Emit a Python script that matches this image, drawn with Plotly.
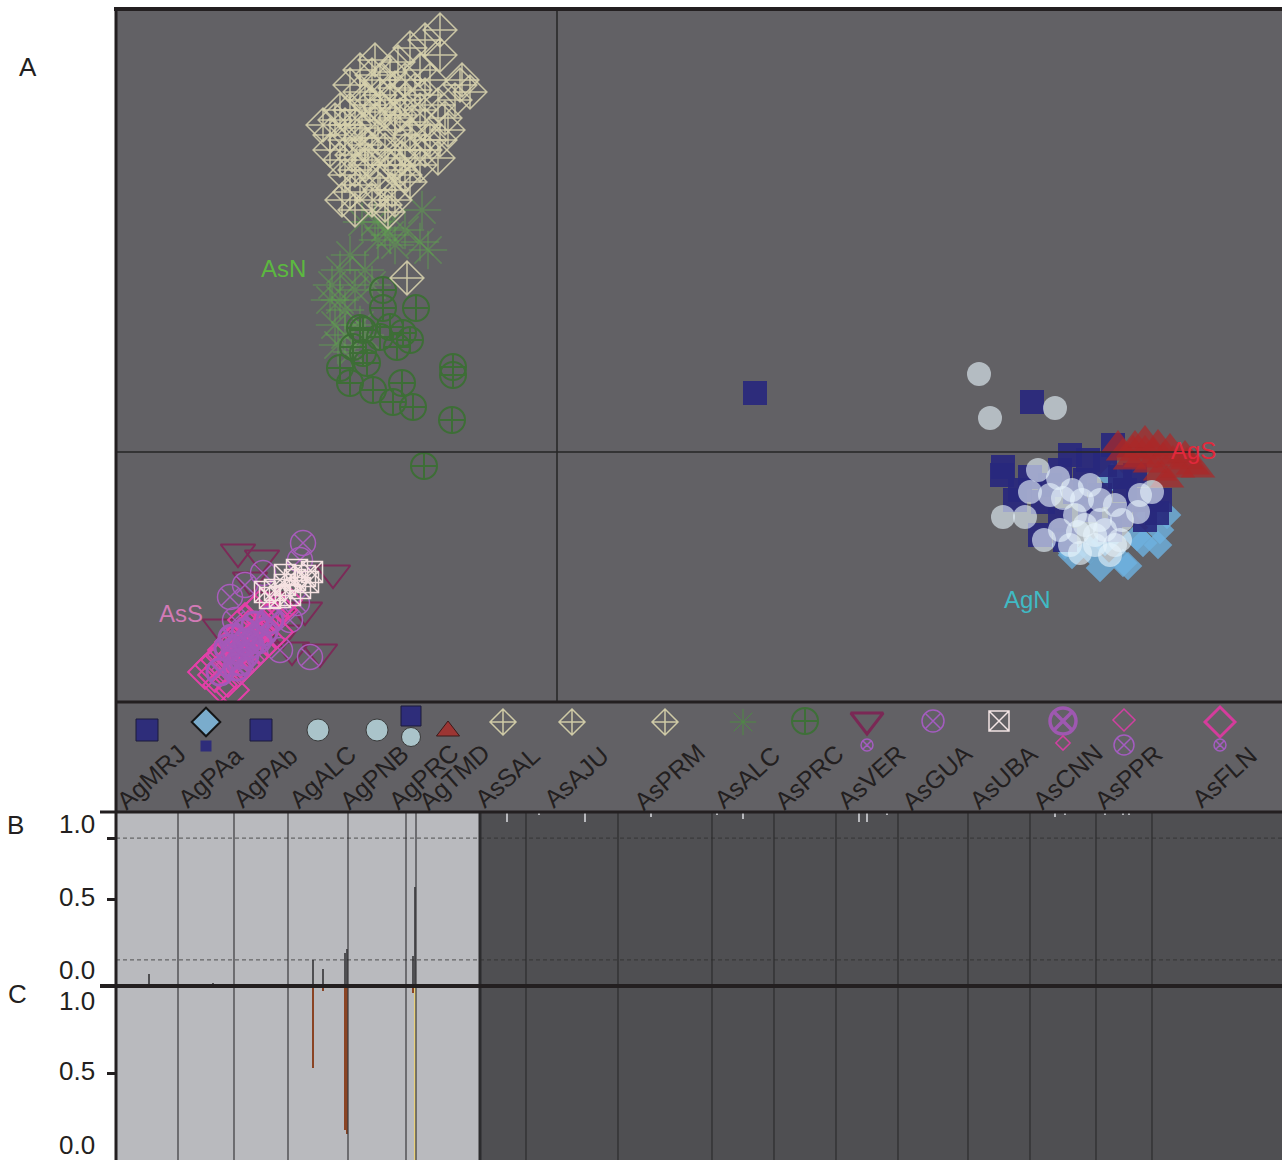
import plotly.graph_objects as go

W, H = 1282, 1160
FONT = "Liberation Sans, Arial, Helvetica, sans-serif"
INK = "#231f20"
PANEL_BG = "#626165"

# ---------------- populations, in bar-plot order ----------------
ag_pops = ["AgMRJ", "AgPAa", "AgPAb", "AgALC", "AgPNB", "AgPRC", "AgTMD"]
ag_sizes = [31, 28, 27, 30, 29, 5, 32]
as_pops = ["AsSAL", "AsAJU", "AsPRM", "AsALC", "AsPRC", "AsVER", "AsGUA",
           "AsUBA", "AsCNN", "AsPPR", "AsFLN"]
as_sizes = [23, 46, 47, 31, 31, 31, 35, 31, 33, 28, 68]

# ---------------- panel A: PCoA scores (PC1, PC2) ----------------
agmrj_pc1 = [1.98, 4.75, 4.46, 4.45, 4.63, 4.58, 4.83, 4.93, 5.03, 5.13, 5.28]
agmrj_pc2 = [0.59, 0.50, -0.15, -0.23, -0.38, -0.48, -0.83, -0.33, -0.68, -0.03, -0.28]
agpab_pc1 = [5.56, 5.31, 4.73, 5.63, 6.03, 6.00, 4.86, 5.03, 5.43, 5.68, 5.81, 5.18]
agpab_pc2 = [0.07, -0.08, -0.25, -0.25, -0.48, -0.61, -0.50, -0.18, -0.43, -0.38, -0.48, -0.40]
agprc_pc1 = [5.33, 5.63, 5.88, 5.48, 5.78, 5.08, 5.53]
agprc_pc2 = [-0.58, -0.63, -0.68, -0.13, -0.23, -0.88, -0.78]
agpaa_pc1 = [5.15, 5.43, 5.66, 6.03, 6.10, 5.86, 5.80, 5.55, 5.33, 5.71, 5.93, 5.08, 5.48, 6.01]
agpaa_pc2 = [-1.03, -1.16, -1.11, -0.78, -0.63, -0.91, -0.85, -0.25, -0.98, -1.14, -0.63, -0.93, -0.90, -0.93]
agtmd_pc1 = [5.66, 5.76, 5.88, 5.96, 6.06, 6.16, 6.30, 6.36, 6.03, 6.10, 5.83, 5.73, 5.93, 6.21, 5.78,
             5.61, 6.28, 6.41, 5.88, 6.01, 6.13]
agtmd_pc2 = [-0.01, 0.02, 0.02, 0.00, -0.05, -0.08, -0.10, -0.15, -0.21, -0.28, -0.08, -0.10, -0.13, -0.18, 0.07,
             0.07, -0.03, -0.18, 0.12, 0.08, 0.04]
agalc_pc1 = [4.22, 4.33, 4.46, 4.68, 4.87, 5.23, 4.81, 5.01, 5.15, 5.43, 5.58, 5.83, 5.95, 4.73, 5.28, 5.48]
agalc_pc2 = [0.78, 0.34, -0.65, -0.65, -0.88, -1.01, -0.18, -0.26, -0.38, -0.48, -0.53, -0.43, -0.40, -0.40, -0.73, -0.78]
agpnb_pc1 = [4.98, 5.63, 5.38, 5.13, 5.03, 5.53, 4.93, 5.33, 5.18, 5.43, 5.65, 5.81, 5.25, 5.06, 5.38, 5.21, 5.58]
agpnb_pc2 = [0.44, -0.88, -0.93, -0.93, -0.78, -1.03, -0.43, -0.33, -0.63, -0.68, -0.68, -0.60, -0.48, -0.46, -0.83, -0.80, -0.93]

assal_pc1 = [-1.32, -1.47, -1.17, -1.59, -1.37, -1.77, -1.62, -1.97, -0.95, -0.87, -1.02, -2.22, -2.07, -1.87, -1.72, -1.52, -1.17,
             -1.97, -1.82, -1.67, -1.52, -1.42, -2.07, -1.92, -1.77]
assal_pc2 = [4.12, 4.04, 3.97, 3.90, 3.82, 3.72, 3.64, 3.60, 3.72, 3.60, 3.52, 3.32, 3.42, 3.47, 3.40, 3.52, 4.22,
             3.82, 3.92, 3.80, 3.72, 3.62, 3.67, 3.52, 3.44]
asaju_pc1 = [-1.32, -1.12, -2.27, -2.12, -1.95, -1.79, -1.62, -1.45, -1.27, -1.09, -2.05, -1.89, -1.72, -1.55, -1.37, -1.19, -1.77, -1.57, -1.85,
             -1.62, -1.47, -1.32, -1.19, -2.17, -2.12, -1.97, -1.85]
asaju_pc2 = [3.57, 3.34, 3.17, 3.12, 3.24, 3.14, 3.22, 3.30, 3.12, 3.22, 2.97, 2.92, 3.02, 2.94, 2.87, 2.94, 3.57, 3.37, 3.77,
             3.34, 3.17, 3.27, 3.47, 3.42, 3.27, 3.14, 3.02]
asprm_pc1 = [-2.12, -1.97, -1.79, -1.65, -1.47, -2.15, -2.02, -1.85, -1.69, -2.07, -1.52, -1.82, -1.67, -1.92, -1.57, -1.37, -2.02, -2.17, -0.97, -1.42, -1.72, -1.50, -1.92, -1.62, -1.27,
             -1.69, -1.52, -1.32, -1.17, -2.02, -1.77, -1.62, -2.27, -2.34]
asprm_pc2 = [2.77, 2.67, 2.74, 2.62, 2.70, 2.52, 2.42, 2.52, 2.40, 2.60, 3.02, 3.32, 3.52, 3.07, 2.82, 3.42, 3.27, 2.92, 3.67, 3.02, 2.47, 1.74, 2.87, 2.87, 3.72,
             2.87, 2.77, 3.02, 3.12, 2.82, 2.62, 2.52, 3.02, 3.27]
asalc_pc1 = [-1.35, -1.29, -1.67, -1.79, -1.95, -2.07, -2.17, -2.25, -2.27, -2.12, -2.22, -2.17, -2.02, -1.92, -1.85, -1.62, -1.52, -1.37, -2.12, -1.97, -2.19, -2.05, -1.92, -1.82, -1.72]
asalc_pc2 = [2.42, 2.02, 2.17, 2.12, 2.30, 1.97, 1.82, 1.67, 1.52, 1.42, 1.27, 1.52, 1.62, 1.82, 1.67, 2.07, 2.22, 2.10, 1.17, 1.27, 1.07, 1.00, 1.17, 2.30, 2.24]
asprc_pc1 = [-1.74, -1.41, -1.74, -1.94, -1.67, -1.54, -1.47, -1.60, -1.90, -2.17, -2.07, -1.84, -1.55, -1.64, -1.44, -1.04, -1.04, -1.05, -1.33, -1.94, -2.04, -1.77, -1.97]
asprc_pc2 = [1.62, 1.44, 1.44, 1.22, 1.25, 1.19, 1.12, 1.05, 0.89, 0.84, 0.69, 0.62, 0.69, 0.50, 0.45, 0.85, 0.77, 0.32, -0.14, 0.99, 1.05, 1.15, 1.24]

asver_pc1 = [-3.19, -2.95, -2.24, -2.37, -2.65, -3.37, -2.74, -3.07, -2.52, -2.89]
asver_pc2 = [-1.00, -1.06, -1.21, -2.00, -1.98, -1.75, -1.81, -1.28, -1.58, -1.48]
asgua_pc1 = [-2.54, -2.47, -3.27, -2.94, -2.77, -2.60, -3.12, -2.67, -3.02, -3.22, -2.57]
asgua_pc2 = [-0.91, -2.05, -1.45, -1.21, -1.98, -1.51, -1.33, -1.68, -1.88, -1.68, -1.08]
asuba_pc1 = [-2.92, -2.82, -2.72, -2.62, -2.52, -2.45, -2.57, -2.67, -2.77, -2.87, -2.49, -2.60, -2.72]
asuba_pc2 = [-1.40, -1.38, -1.33, -1.28, -1.24, -1.20, -1.36, -1.43, -1.45, -1.46, -1.30, -1.18, -1.23]
asfln_pc1 = [-3.42, -3.35, -3.29, -3.22, -3.15, -3.07, -2.99, -2.91, -2.85, -2.77, -3.39, -3.32, -3.25, -3.17, -3.09,
             -3.29, -3.21, -3.13, -3.05, -2.97, -2.89, -2.81, -3.45, -3.37, -3.25, -3.52, -3.12, -3.02, -2.95, -2.72]
asfln_pc2 = [-2.23, -2.16, -2.10, -2.03, -1.96, -1.88, -1.80, -1.72, -1.64, -1.58, -2.08, -1.98, -1.90, -1.83, -1.76,
             -2.28, -2.20, -2.12, -2.04, -1.96, -1.88, -1.80, -2.13, -2.33, -2.38, -2.20, -1.68, -1.60, -1.53, -1.48]
asppr_pc1 = [-3.27, -3.19, -3.11, -3.03, -2.95, -3.31, -3.17, -3.07, -3.35, -3.21]
asppr_pc2 = [-2.08, -2.00, -1.93, -1.85, -1.76, -2.18, -2.18, -2.08, -2.03, -1.88]
ascnn_pc1 = [-3.22, -3.12, -3.07, -3.17, -3.29, -2.99, -2.93, -3.25, -3.02, -2.87, -3.12, -3.37, -3.20, -3.10]
ascnn_pc2 = [-1.98, -2.03, -1.93, -2.10, -1.96, -1.88, -1.80, -1.86, -1.73, -1.68, -1.80, -2.20, -2.15, -1.90]

# ---------------- panels B and C: ancestry proportions ----------------
# B (K=2): share of the other cluster carried by admixed individuals
b_ag_idx = [5, 16, 48, 98, 103, 114, 115, 148, 149]
b_ag_q = [0.01, 0.07, 0.02, 0.15, 0.10, 0.19, 0.21, 0.17, 0.57]
b_as_idx = [195, 211, 234, 267, 300, 313, 371, 375, 385, 469, 474, 494, 503, 506]
b_as_q = [0.06, 0.02, 0.055, 0.03, 0.02, 0.04, 0.055, 0.055, 0.02, 0.03, 0.02, 0.02, 0.015, 0.015]
# C: further clusters found within the Ag group
c_brown_idx = [16, 98, 103, 114, 115, 148]
c_brown_q = [0.01, 0.47, 0.03, 0.83, 0.85, 0.04]
c_yellow_idx = [149]
c_yellow_q = [1.0]

n_ag, n_as = sum(ag_sizes), sum(as_sizes)
n_ind = n_ag + n_as
ind_x = [i + 0.5 for i in range(n_ind)]

b_dark = [0.0] * n_ag + [1.0] * n_as
for i, q in zip(b_ag_idx, b_ag_q):
    b_dark[i] = q
for i, q in zip(b_as_idx, b_as_q):
    b_dark[i] = 1.0 - q
b_light = [1.0 - d for d in b_dark]

c_dark = [0.0] * n_ag + [1.0] * n_as
c_brown = [0.0] * n_ind
c_yellow = [0.0] * n_ind
for i, q in zip(c_brown_idx, c_brown_q):
    c_brown[i] = q
for i, q in zip(c_yellow_idx, c_yellow_q):
    c_yellow[i] = q
c_light = [(1.0 - c_brown[i] - c_yellow[i]) if i < n_ag else 0.0 for i in range(n_ind)]

pops = ag_pops + as_pops
sizes = ag_sizes + as_sizes
bounds = [0]
for s in sizes:
    bounds.append(bounds[-1] + s)
centers = [(bounds[k] + bounds[k + 1]) / 2 for k in range(len(sizes))]
X_VIS = 583  # individuals shown across the plotting width

# ---------------- figure ----------------
def py(p):
    return 1 - p / H

x_dom = [116 / W, 1.0]
fig = go.Figure()

LIGHT, DARK = "#b9babe", "#4f4f52"
BROWN, YELLOW = "#8a4424", "#e6d07c"

def sc(x, y, symbol, size, color, lw=0, lcolor=None, opacity=1.0, xa="x", ya="y"):
    marker = dict(symbol=symbol, size=size, opacity=opacity, color=color,
                  line=dict(width=lw, color=lcolor if lcolor else color))
    fig.add_trace(go.Scatter(x=x, y=y, mode="markers", marker=marker,
                             xaxis=xa, yaxis=ya, showlegend=False, hoverinfo="skip"))

# panel A -- northern As group
sc(asalc_pc1, asalc_pc2, "asterisk-open", 32, "rgba(95,160,80,0.55)", lw=1.5)
sc(asprc_pc1, asprc_pc2, "circle-cross-open", 26, "#3d6e36", lw=2)
for px_, py_ in [(assal_pc1, assal_pc2), (asaju_pc1, asaju_pc2), (asprm_pc1, asprm_pc2)]:
    sc(px_, py_, "diamond-cross-open", 26, "rgba(214,208,172,0.9)", lw=1.5)
# southern As group
sc(asver_pc1, asver_pc2, "triangle-down-open", 30, "#7c2a58", lw=2)
sc(asgua_pc1, asgua_pc2, "circle-x-open", 25, "#a85cbc", lw=1.5)
sc(asfln_pc1, asfln_pc2, "diamond-open", 26, "#e43fa8", lw=2)
sc(asppr_pc1, asppr_pc2, "diamond-open", 22, "#d24cae", lw=1.5)
sc(ascnn_pc1, ascnn_pc2, "circle-x-open", 26, "#a458b8", lw=3)
sc(asuba_pc1, asuba_pc2, "square-x-open", 21, "#f6e2e2", lw=1.5)
# Ag groups
sc(agpaa_pc1, agpaa_pc2, "diamond", 22, "rgba(110,178,224,0.8)")
sc(agmrj_pc1, agmrj_pc2, "square", 24, "rgba(40,40,125,0.92)")
sc(agpab_pc1, agpab_pc2, "square", 24, "rgba(40,40,125,0.92)")
sc(agprc_pc1, agprc_pc2, "square", 24, "rgba(40,40,125,0.92)")
sc(agtmd_pc1, agtmd_pc2, "triangle-up", 30, "rgba(170,40,40,0.72)")
sc(agalc_pc1, agalc_pc2, "circle", 24, "rgba(230,244,251,0.62)")
sc(agpnb_pc1, agpnb_pc2, "circle", 24, "rgba(230,244,251,0.62)")

# ---------------- symbol key above the bar plots ----------------
cmap = dict(zip(pops, centers))
sc([cmap["AgMRJ"], cmap["AgPAb"]], [82, 82], "square", 22, "#2e2d7a", lw=1, lcolor="#1b1b3a", xa="x2", ya="y2")
sc([cmap["AgPAa"]], [90], "diamond", 22, "#7aaccc", lw=2, lcolor="#151515", xa="x2", ya="y2")
sc([cmap["AgPAa"]], [66], "square", 11, "#2e2d7a", xa="x2", ya="y2")
sc([cmap["AgALC"], cmap["AgPNB"]], [82, 82], "circle", 22, "#aac4ca", lw=1, lcolor="#3a3a3a", xa="x2", ya="y2")
sc([cmap["AgPRC"]], [96], "square", 20, "#2e2d7a", lw=1, lcolor="#1b1b3a", xa="x2", ya="y2")
sc([cmap["AgPRC"]], [75], "circle", 19, "#aac4ca", lw=1, lcolor="#3a3a3a", xa="x2", ya="y2")
sc([cmap["AgTMD"]], [81], "triangle-up", 20, "#9c3533", lw=1, lcolor="#3a1a1a", xa="x2", ya="y2")
sc([cmap["AsSAL"], cmap["AsAJU"], cmap["AsPRM"]], [90, 90, 90], "diamond-cross-open", 20, "#cfcaa6", lw=1.5, xa="x2", ya="y2")
sc([cmap["AsALC"]], [90], "asterisk-open", 22, "#4e8a45", lw=1, xa="x2", ya="y2")
sc([cmap["AsPRC"]], [91], "circle-cross-open", 26, "#3e6f38", lw=2, xa="x2", ya="y2")
sc([cmap["AsVER"]], [92], "triangle-down-open", 28, "#7a2855", lw=3, xa="x2", ya="y2")
sc([cmap["AsVER"]], [67], "circle-x-open", 12, "#a45cc0", lw=1.5, xa="x2", ya="y2")
sc([cmap["AsGUA"]], [91], "circle-x-open", 22, "#a45cc0", lw=1.5, xa="x2", ya="y2")
sc([cmap["AsUBA"]], [91], "square-x-open", 20, "#f2e4e4", lw=1.5, xa="x2", ya="y2")
sc([cmap["AsCNN"]], [91], "circle-x-open", 26, "#9e58b0", lw=3.5, xa="x2", ya="y2")
sc([cmap["AsCNN"]], [69], "diamond-open", 11, "#d040a0", lw=1.5, xa="x2", ya="y2")
sc([cmap["AsPPR"]], [92], "diamond-open", 17, "#d040a0", lw=1.5, xa="x2", ya="y2")
sc([cmap["AsPPR"]], [67], "circle-x-open", 20, "#a45cc0", lw=1.5, xa="x2", ya="y2")
sc([cmap["AsFLN"]], [90], "diamond-open", 23, "#d43c9c", lw=3, xa="x2", ya="y2")
sc([cmap["AsFLN"]], [67], "circle-x-open", 12, "#a45cc0", lw=1.5, xa="x2", ya="y2")

# ---------------- bar plots ----------------
def bars(y, color, xa, ya):
    fig.add_trace(go.Bar(x=ind_x, y=y, width=1.0, marker=dict(color=color, line=dict(width=0)),
                         xaxis=xa, yaxis=ya, showlegend=False, hoverinfo="skip"))

bars(b_dark, DARK, "x3", "y3")
bars(b_light, LIGHT, "x3", "y3")
bars(c_dark, DARK, "x4", "y4")
bars(c_light, LIGHT, "x4", "y4")
bars(c_yellow, YELLOW, "x4", "y4")
bars(c_brown, BROWN, "x4", "y4")

shapes = []
# crosshair of panel A
shapes.append(dict(type="line", xref="x", yref="y domain", x0=0, x1=0, y0=0, y1=1,
                   line=dict(color="#262626", width=1.5)))
shapes.append(dict(type="line", xref="x domain", yref="y", x0=0, x1=1, y0=0, y1=0,
                   line=dict(color="#262626", width=1.5)))
# population separators in B and C
for ya, xa in [("y3", "x3"), ("y4", "x4")]:
    for b in bounds[1:-1]:
        thick = (b == n_ag)
        col = "#3a3a3c" if b < n_ag else "#2c2c2e"
        shapes.append(dict(type="line", xref=xa, yref=ya + " domain", x0=b, x1=b, y0=0, y1=1,
                           line=dict(color=col, width=3 if thick else 1.2), layer="above"))
# threshold lines in B
for t in (0.15, 0.85):
    shapes.append(dict(type="line", xref="x3 domain", yref="y3", x0=0, x1=1, y0=t, y1=t,
                       line=dict(color="rgba(45,45,45,0.75)", width=1, dash="4px,3px"), layer="above"))
# frame lines
def hline(y, x0, x1, w):
    shapes.append(dict(type="line", xref="paper", yref="paper", x0=x0 / W, x1=x1 / W,
                       y0=py(y), y1=py(y), line=dict(color=INK, width=w), layer="above"))
hline(9, 114, W, 4)
hline(702, 116, W, 3)
hline(812, 100, W, 3)
hline(986, 100, W, 4)
shapes.append(dict(type="line", xref="paper", yref="paper", x0=116 / W, x1=116 / W,
                   y0=0, y1=py(7), line=dict(color=INK, width=3), layer="above"))

ann = []
def label(text, x, y, size, color=INK, xref="paper", yref="paper", angle=0):
    ann.append(dict(text=text, x=x, y=y, xref=xref, yref=yref, showarrow=False,
                    font=dict(family=FONT, size=size, color=color), textangle=angle,
                    xanchor="center", yanchor="middle"))

label("A", 28 / W, py(67), 26)
label("B", 15 / W, py(825), 26)
label("C", 17 / W, py(994), 26)
for txt, yy in [("1.0", 824), ("0.5", 897), ("0.0", 970), ("1.0", 1001), ("0.5", 1071), ("0.0", 1145)]:
    label(txt, 77 / W, py(yy), 26)

# cluster names in panel A
label("AsN", -2.74, 1.84, 24, "#5cb840", "x", "y")
label("AsS", -3.76, -1.61, 24, "#d27ab6", "x", "y")
label("AgN", 4.70, -1.47, 24, "#40bac4", "x", "y")
label("AgS", 6.36, 0.02, 24, "#e2283c", "x", "y")

# rotated population names (small sideways nudges where names crowd)
name_shift = {"AgPNB": -1.5, "AgPRC": 6.0, "AgTMD": 3.0}
for p, c in zip(pops, centers):
    label(p, c + name_shift.get(p, 2.0), 35, 25, INK, "x2", "y2", angle=-42)

ax_common = dict(showgrid=False, zeroline=False, showticklabels=False, ticks="")
fig.update_layout(
    width=W, height=H, margin=dict(l=0, r=0, t=0, b=0),
    paper_bgcolor="white", plot_bgcolor=PANEL_BG,
    barmode="stack", bargap=0, showlegend=False,
    font=dict(family=FONT, color=INK),
    xaxis=dict(domain=x_dom, range=[-4.41, 7.25], anchor="y", **ax_common),
    yaxis=dict(domain=[py(702), py(8)], range=[-2.50, 4.44], anchor="x", **ax_common),
    xaxis2=dict(domain=x_dom, range=[0, X_VIS], anchor="y2", **ax_common),
    yaxis2=dict(domain=[py(812), py(702)], range=[0, 110], anchor="x2", **ax_common),
    xaxis3=dict(domain=x_dom, range=[0, X_VIS], anchor="y3", **ax_common),
    yaxis3=dict(domain=[py(986), py(812)], range=[0, 1], anchor="x3", showgrid=False, zeroline=False,
                showticklabels=False, ticks="outside", tickvals=[0.5, 0.85], ticklen=8,
                tickwidth=3, tickcolor=INK),
    xaxis4=dict(domain=x_dom, range=[0, X_VIS], anchor="y4", **ax_common),
    yaxis4=dict(domain=[0, py(986)], range=[0, 1], anchor="x4", showgrid=False, zeroline=False,
                showticklabels=False, ticks="outside", tickvals=[0.5], ticklen=8,
                tickwidth=3, tickcolor=INK),
    shapes=shapes, annotations=ann,
)

fig.write_html("out.html")
